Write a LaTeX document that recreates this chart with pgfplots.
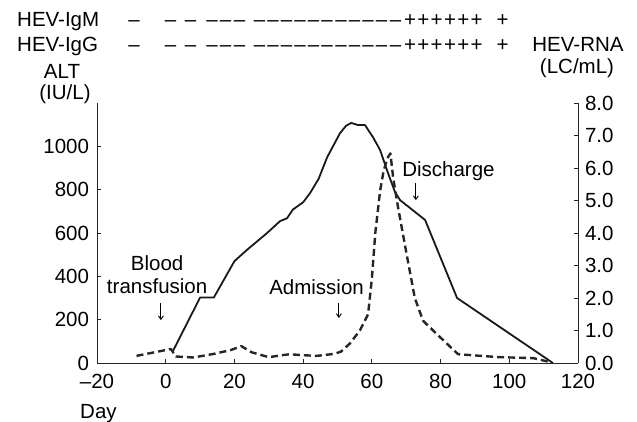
\documentclass[border=0pt]{standalone}
\usepackage{fontspec}
\setmainfont{Liberation Sans}
\usepackage{pgfplots}
\pgfplotsset{compat=1.18}
\usetikzlibrary{arrows.meta}
\pgfplotstableread{
day alt
2 52
10 302
14 302
20 470
23.5 520
29.5 600
33.3 655
35.3 668
37 708
40 742
42 784
44.5 850
47 950
50.7 1060
52.5 1095
54 1108
56 1098
58 1098
60.3 1043
62.4 983
64.4 890
66.7 790
68.2 752
75.5 660
84.8 300
112.7 0
}\altdata
\pgfplotstableread{
day rna
-8.5 0.22
1.5 0.43
3 0.20
8 0.17
14 0.28
19 0.40
22 0.52
25 0.33
30 0.18
36 0.27
40 0.24
44 0.22
49 0.28
51 0.35
53.6 0.60
56.5 1.00
58.9 1.50
60 2.60
61 4.00
62.4 5.30
63.4 5.90
64.5 6.30
65.4 6.45
66.2 5.70
67.6 4.80
70.2 3.30
72.5 2.00
74.9 1.30
79.8 0.80
85.1 0.27
97 0.18
107 0.15
111.8 0.03
}\rnadata
\newcommand\fs{\fontsize{20.5bp}{24bp}\selectfont}
\begin{document}
\fs
\begin{tikzpicture}[x=1bp,y=1bp]
\path[use as bounding box] (0,0) rectangle (637,421);
\pgfplotsset{
  common/.style={
    at={(97bp,58bp)}, anchor=south west,
    scale only axis, width=481bp, height=260bp,
    xmin=-20, xmax=120,
    axis line style={-, line width=1bp, black!85},
    tick align=inside, major tick length=4bp,
    tick style={line width=0.8bp, black!85},
    tick label style={font=\fs},
    /pgf/number format/assume math mode=true,
    /pgf/number format/1000 sep={},
    clip=false,
  }
}
\begin{axis}[common,
  ymin=0, ymax=1200,
  axis x line*=bottom, axis y line*=left,
  xtick={-20,0,...,120}, xticklabels={–20,0,20,40,60,80,100,120},
  ytick={0,200,...,1000}, yticklabels={0,200,400,600,800,1000},
  yticklabel style={xshift=-1bp},
  xticklabel style={yshift=-4bp},
]
\addplot[black!90, line width=1.8bp, line join=round] table[x=day,y=alt] {\altdata};
\node[anchor=base, font=\fs] at (axis cs:-2.5,429) {Blood};
\node[anchor=base, font=\fs] at (axis cs:-2.5,323) {transfusion};
\node[anchor=base, font=\fs] at (axis cs:43.9,314) {Admission};
\node[anchor=base, font=\fs] at (axis cs:82.3,863) {Discharge};
\draw[line width=0.9bp, -{Straight Barb[length=3.5bp,width=5bp]}] (axis cs:-1.4,277) -- (axis cs:-1.4,198);
\draw[line width=0.9bp, -{Straight Barb[length=3.5bp,width=5bp]}] (axis cs:50.4,277) -- (axis cs:50.4,208);
\draw[line width=0.9bp, -{Straight Barb[length=3.5bp,width=5bp]}] (axis cs:72.8,831) -- (axis cs:72.8,752);
\end{axis}
\begin{axis}[common,
  ymin=0, ymax=8,
  axis x line=none, axis y line*=right,
  ytick={0,1,...,8}, yticklabels={0.0,1.0,2.0,3.0,4.0,5.0,6.0,7.0,8.0},
]
\addplot[black!85, line width=2.4bp, dash pattern=on 7bp off 4bp, line join=round] table[x=day,y=rna] {\rnadata};
\end{axis}
% header labels
\node[anchor=base west, inner sep=0pt] at (17,394) {HEV-IgM};
\node[anchor=base west, inner sep=0pt] at (17,370) {HEV-IgG};
\node[anchor=base] at (62,343) {ALT};
\node[anchor=base] at (65,322) {(IU/L)};
\node[anchor=base] at (578,370) {HEV-RNA};
\node[anchor=base] at (577,348) {(LC/mL)};
\node[anchor=base west, inner sep=0pt] at (80,3) {Day};
% sign rows
\foreach \yy in {394,370}{
  \foreach \xx in {134,170.5,190.5,212,225.5,239.5,259.5,273,286.5,300,313.5,327,341,354.5,368,381.5,395.5}{
    \node[anchor=base, inner sep=0pt] at (\xx,\yy) {–};
  }
  \foreach \xx in {410,423.3,436.7,450,463.3,476.7,502.5}{
    \node[anchor=base, inner sep=0pt] at (\xx,\yy) {+};
  }
}
\end{tikzpicture}
\end{document}
